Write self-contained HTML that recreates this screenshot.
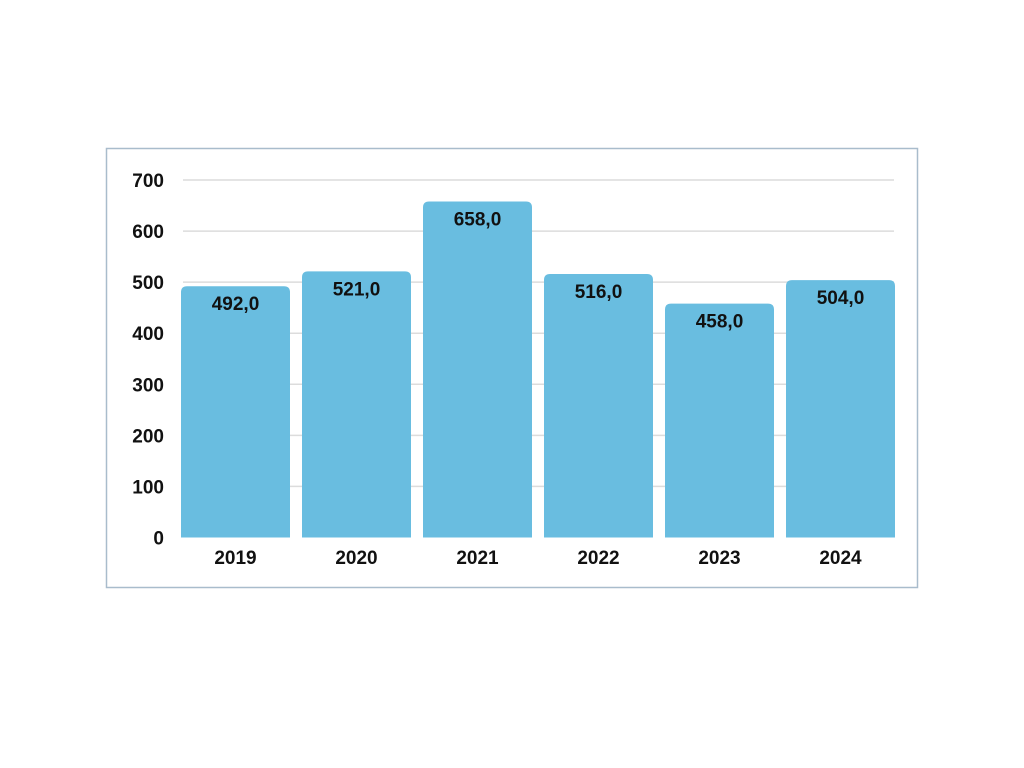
<!DOCTYPE html>
<html><head><meta charset="utf-8"><style>
html,body{margin:0;padding:0;background:#fff;}
svg{display:block;font-family:"Liberation Sans",sans-serif;}
</style></head><body>
<svg width="1024" height="768">
<rect x="106.5" y="148.5" width="811" height="439" fill="#fff" stroke="#a9bccc" stroke-width="1.5"/>
<g id="grid"></g><g id="bars"></g><g id="labels"></g>
</svg>
<script>
const categories=["2019","2020","2021","2022","2023","2024"];
const values=[492,521,658,516,458,504];
const valueLabels=["492,0","521,0","658,0","516,0","458,0","504,0"];
const yTicks=[0,100,200,300,400,500,600,700];
const NS="http://www.w3.org/2000/svg";
const x0=181,band=121,barW=109,yBase=537.5,yTop=180;
const y=v=>yBase-(yBase-yTop)*v/700;
const grid=document.getElementById('grid'),bars=document.getElementById('bars'),labels=document.getElementById('labels');
function mk(t,a,p){const e=document.createElementNS(NS,t);for(const k in a)e.setAttribute(k,a[k]);p.appendChild(e);return e;}
yTicks.forEach(t=>{
  if(t>0){const l=mk('line',{x1:183,x2:894,y1:y(t),y2:y(t),stroke:'#dcdcdc','stroke-width':1.5},grid);
  
  }
  const tx=mk('text',{x:164,y:y(t)+7,'text-anchor':'end','font-size':19,'font-weight':'bold',fill:'#111'},labels);
  tx.textContent=t;
  
  
});
categories.forEach((c,i)=>{
  const bx=x0+i*band,top=y(values[i]),h=yBase-top,r=6;
  const p=mk('path',{d:`M${bx},${yBase}V${top+r}Q${bx},${top} ${bx+r},${top}H${bx+barW-r}Q${bx+barW},${top} ${bx+barW},${top+r}V${yBase}Z`,fill:'#69bde0'},bars);
  
  
  const vl=mk('text',{x:bx+barW/2,y:top+24,'text-anchor':'middle','font-size':19,'font-weight':'bold',fill:'#111'},labels);
  vl.textContent=valueLabels[i];
  
  
  const xl=mk('text',{x:bx+barW/2,y:564,'text-anchor':'middle','font-size':19,'font-weight':'bold',fill:'#111'},labels);
  xl.textContent=c;
  
  
});
</script>
</body></html>
